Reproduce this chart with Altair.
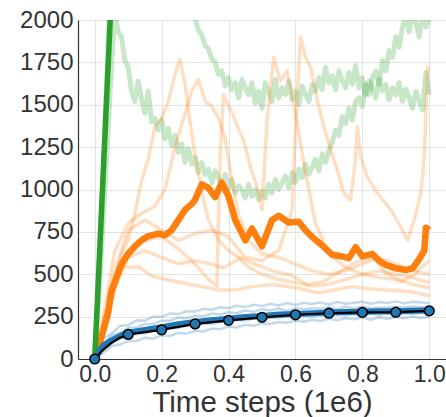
import altair as alt
import pandas as pd

# ---------------- data ----------------
grid01 = [round(i * 0.01, 2) for i in range(101)]
grid025 = [round(i * 0.025, 3) for i in range(41)]

green_mean_x = [0.0, 0.05, 0.1, 0.2, 0.4, 0.7, 1.0]
green_mean_y = [0, 2160, 4300, 6200, 7600, 8400, 9000]

green_run1_y = [
    0, 300, 620, 980, 1350, 1720, 2060, 1930, 1900, 1760,
    1720, 1580, 1520, 1640, 1530, 1450, 1580, 1400, 1420, 1350,
    1410, 1300, 1360, 1260, 1320, 1220, 1270, 1160, 1240, 1150,
    1190, 1100, 1160, 1090, 1120, 1040, 1110, 1070, 1020, 1090,
    1000, 1060, 980, 1020, 1000, 950, 1030, 960, 1000, 940,
    990, 950, 1030, 980, 1060, 1000, 1040, 1080, 1010, 1100,
    1040, 1120, 1070, 1150, 1090, 1130, 1180, 1110, 1210, 1160,
    1230, 1280, 1350, 1320, 1430, 1390, 1480, 1410, 1520, 1540,
    1490, 1620, 1560, 1660, 1700, 1620, 1760, 1700, 1820, 1780,
    1900, 1840, 1960, 2020, 1930, 2050, 1980, 1900, 2040, 1960,
    2010,
]

green_run2_x = [0.0, 0.01, 0.02, 0.03, 0.04, 0.05, 0.1, 0.2, 0.28] + [round(0.30 + i * 0.01, 2) for i in range(71)]
green_run2_y = [
    0, 380, 850, 1350, 1850, 2350, 3100, 2600, 2150,
    2010, 1940, 1910, 1850, 1830, 1770, 1750, 1680, 1700, 1610,
    1660, 1590, 1630, 1540, 1650, 1600, 1560, 1630, 1510, 1580,
    1480, 1630, 1570, 1520, 1650, 1540, 1600, 1560, 1640, 1530,
    1580, 1500, 1610, 1560, 1520, 1620, 1580, 1660, 1590, 1720,
    1630, 1670, 1590, 1700, 1640, 1600, 1690, 1620, 1730, 1600,
    1660, 1560, 1640, 1600, 1540, 1650, 1580, 1620, 1530, 1600,
    1560, 1630, 1520, 1590, 1540, 1480, 1580, 1520, 1470, 1690,
    1560,
]

orange_mean_x = [0, 0.02, 0.04, 0.05, 0.08, 0.1, 0.12, 0.14, 0.16, 0.19,
                 0.21, 0.23, 0.24, 0.27, 0.29, 0.30, 0.32, 0.34, 0.36, 0.38,
                 0.40, 0.42, 0.45, 0.47, 0.50, 0.53, 0.55, 0.58, 0.61, 0.63,
                 0.65, 0.68, 0.71, 0.74, 0.76, 0.78, 0.80, 0.83, 0.85, 0.87,
                 0.90, 0.93, 0.95, 0.97, 0.985, 0.99, 1.0]
orange_mean_y = [0, 130, 270, 400, 560, 620, 665, 700, 725, 740,
                 730, 760, 790, 880, 915, 940, 1030, 1010, 955, 1040,
                 960, 820, 700, 770, 665, 820, 845, 805, 810, 760,
                 720, 670, 615, 605, 595, 660, 605, 620, 580, 555,
                 535, 525, 535, 590, 640, 775, 760]

orange_run1_x = [0, 0.02, 0.05, 0.08, 0.1, 0.12, 0.14, 0.16, 0.18, 0.2, 0.22, 0.24, 0.255, 0.27, 0.285, 0.3,
                 0.32, 0.34, 0.37, 0.4, 0.43, 0.46, 0.5, 0.55, 0.6, 0.65, 0.7, 0.75, 0.8, 0.85, 0.9, 0.95, 1.0]
orange_run1_y = [0, 120, 400, 620, 700, 860, 1050, 1180, 1370, 1420, 1520, 1680, 1770, 1620, 1400, 1200,
                 980, 820, 700, 640, 600, 540, 500, 470, 450, 430, 440, 470, 500, 520, 500, 480, 450]

orange_run2_x = [0, 0.03, 0.06, 0.1, 0.14, 0.18, 0.21, 0.24, 0.27, 0.29, 0.31, 0.33, 0.35, 0.37, 0.39,
                 0.41, 0.43, 0.46, 0.5, 0.55, 0.6, 0.65, 0.7, 0.75, 0.8, 0.85, 0.9, 0.95, 1.0]
orange_run2_y = [0, 300, 640, 800, 860, 900, 1000, 1250, 1450, 1580, 1650, 1520, 1490, 1420, 1300,
                 1050, 850, 700, 620, 600, 560, 520, 500, 520, 560, 600, 560, 520, 500]

orange_run3_x = [0, 0.03, 0.06, 0.1, 0.15, 0.2, 0.25, 0.3, 0.34, 0.365, 0.375, 0.385, 0.415, 0.445, 0.465,
                 0.485, 0.5, 0.515, 0.535, 0.555, 0.575, 0.6, 0.63, 0.66, 0.7, 0.75, 0.8, 0.85, 0.9, 0.95, 1.0]
orange_run3_y = [0, 180, 420, 640, 700, 720, 650, 560, 470, 430, 1200, 1560, 1430, 1290, 1135,
                 1016, 880, 1400, 1780, 1640, 1700, 1450, 1100, 800, 620, 540, 500, 480, 470, 440, 420]

orange_run4_x = [0, 0.03, 0.06, 0.1, 0.15, 0.2, 0.25, 0.3, 0.35, 0.4, 0.45, 0.5, 0.55, 0.59, 0.6, 0.615,
                 0.63, 0.645, 0.665, 0.685, 0.705, 0.725, 0.745, 0.765, 0.778, 0.785, 0.795, 0.815, 0.845,
                 0.885, 0.915, 0.935, 0.955, 0.975, 0.985, 0.995, 1.0]
orange_run4_y = [0, 250, 520, 760, 820, 760, 700, 740, 760, 720, 600, 580, 640, 880, 1350, 1900,
                 1780, 1725, 1528, 1370, 1233, 1115, 978, 938, 1150, 1370, 1194, 1076, 978,
                 880, 780, 700, 820, 978, 1180, 1720, 1700]

orange_run5_x = [0, 0.03, 0.06, 0.08, 0.1, 0.13, 0.17, 0.22, 0.27, 0.32, 0.37, 0.42, 0.47, 0.53, 0.6,
                 0.67, 0.72, 0.77, 0.82, 0.87, 0.93, 0.97, 1.0]
orange_run5_y = [0, 250, 480, 560, 540, 545, 490, 466, 447, 427, 407, 407, 427, 440, 420,
                 390, 410, 427, 415, 407, 400, 388, 370]

orange_run6_x = [0, 0.03, 0.06, 0.1, 0.15, 0.2, 0.25, 0.3, 0.35, 0.385, 0.435, 0.485, 0.535, 0.585,
                 0.635, 0.685, 0.735, 0.785, 0.835, 0.865, 0.915, 0.955, 0.985, 1.0]
orange_run6_y = [0, 200, 420, 600, 640, 600, 560, 580, 560, 537, 596, 556, 517, 497,
                 438, 458, 517, 576, 596, 517, 458, 497, 556, 580]

blue_mean_x = [0, 0.025, 0.05, 0.075, 0.1, 0.15, 0.2, 0.25, 0.3, 0.35, 0.4, 0.45, 0.5, 0.55, 0.6,
               0.65, 0.7, 0.75, 0.8, 0.85, 0.9, 0.95, 1.0]
blue_mean_y = [0, 80, 110, 135, 155, 172, 188, 205, 218, 228, 238, 248, 254, 262, 266,
               270, 274, 277, 279, 281, 282, 284, 287]

blue_run1_y = [0, 120, 150, 195, 200, 228, 226, 250, 250, 268, 265, 282, 280, 296, 290, 305, 300, 314, 306, 320,
               312, 326, 316, 330, 318, 332, 324, 334, 322, 336, 326, 332, 338, 326, 336, 330, 340, 328, 338, 334, 330]
blue_run2_y = [0, 85, 138, 152, 184, 186, 206, 206, 226, 226, 244, 240, 256, 252, 268, 262, 276, 270, 286, 278,
               294, 286, 298, 284, 300, 294, 300, 296, 306, 294, 308, 298, 310, 300, 304, 302, 308, 304, 310, 306, 312]
blue_run3_y = [0, 65, 90, 124, 128, 150, 150, 168, 168, 186, 182, 198, 194, 210, 206, 220, 218, 232, 226, 240,
               234, 246, 240, 254, 246, 258, 250, 258, 252, 262, 256, 266, 254, 268, 260, 268, 262, 270, 264, 272, 268]
blue_run4_y = [0, 35, 75, 85, 106, 106, 126, 120, 140, 136, 154, 150, 166, 162, 180, 176, 192, 186, 202, 196,
               210, 206, 218, 214, 226, 220, 232, 224, 238, 228, 240, 234, 244, 232, 246, 238, 248, 240, 250, 242, 252]

black_x = [0, 0.02, 0.05, 0.075, 0.1, 0.2, 0.3, 0.4, 0.5, 0.6, 0.7, 0.8, 0.9, 1.0]
black_y = [0, 45, 95, 125, 145, 172, 207, 228, 246, 261, 270, 275, 276, 284]
marker_x = [0.0, 0.1, 0.2, 0.3, 0.4, 0.5, 0.6, 0.7, 0.8, 0.9, 1.0]
marker_y = [0, 145, 172, 207, 228, 246, 261, 270, 275, 276, 284]

x_ticks = [0.0, 0.2, 0.4, 0.6, 0.8, 1.0]
y_ticks = [0, 250, 500, 750, 1000, 1250, 1500, 1750, 2000]


def frame(runs):
    rows = []
    for name, xs, ys in runs:
        for a, b in zip(xs, ys):
            rows.append({"x": a, "y": b, "run": name})
    return pd.DataFrame(rows)


FONT = "Liberation Sans"
TXT = "#333333"

x_enc = alt.X(
    "x:Q",
    scale=alt.Scale(domain=[-0.05, 1.05], nice=False, zero=False),
    axis=alt.Axis(values=x_ticks, format=".1f", title="Time steps (1e6)",
                  labelFontSize=23, labelFont=FONT, labelColor=TXT, labelPadding=4,
                  ticks=False, domainColor="#333333", domainWidth=1.2,
                  gridColor="#e3e3e3", gridWidth=1,
                  titleFont=FONT, titleFontSize=29.5, titleFontWeight="normal",
                  titleColor=TXT, titlePadding=2, labelFlush=False),
)
y_enc = alt.Y(
    "y:Q",
    scale=alt.Scale(domain=[0, 2000], nice=False),
    axis=alt.Axis(values=y_ticks, format="d", title=None,
                  labelFontSize=24, labelFont=FONT, labelColor=TXT, labelPadding=5,
                  ticks=False, domainColor="#333333", domainWidth=1.2,
                  gridColor="#e3e3e3", gridWidth=1),
)


def lines(df, color, width, opacity):
    return alt.Chart(df).mark_line(color=color, strokeWidth=width, opacity=opacity,
                                   clip=True, strokeJoin="round").encode(
        x=x_enc, y=y_enc, detail="run:N")


green_faint = frame([("g1", grid01, green_run1_y), ("g2", green_run2_x, green_run2_y)])
orange_faint = frame([
    ("o1", orange_run1_x, orange_run1_y), ("o2", orange_run2_x, orange_run2_y),
    ("o3", orange_run3_x, orange_run3_y), ("o4", orange_run4_x, orange_run4_y),
    ("o5", orange_run5_x, orange_run5_y), ("o6", orange_run6_x, orange_run6_y),
])
blue_faint = frame([
    ("b1", grid025, blue_run1_y), ("b2", grid025, blue_run2_y),
    ("b3", grid025, blue_run3_y), ("b4", grid025, blue_run4_y),
])

layers = [
    lines(green_faint, "#2ca02c", 5, 0.26),
    lines(orange_faint, "#ff7f0e", 3.5, 0.25),
    lines(blue_faint, "#1f77b4", 2.5, 0.28),
    lines(frame([("om", orange_mean_x, orange_mean_y)]), "#ff7f0e", 6.5, 1),
    lines(frame([("gm", green_mean_x, green_mean_y)]), "#2ca02c", 5.5, 1),
    lines(frame([("bm", blue_mean_x, blue_mean_y)]), "#1f77b4", 6, 1),
    lines(frame([("bk", black_x, black_y)]), "#000000", 2.2, 1),
    alt.Chart(frame([("mk", marker_x, marker_y)])).mark_point(
        shape="circle", filled=True, fill="#1f77b4", stroke="#000000",
        strokeWidth=1.5, size=95, opacity=1, clip=False).encode(x=x_enc, y=y_enc),
]

chart = alt.layer(*layers).properties(
    width=368, height=339,
    autosize=alt.AutoSizeParams(type="none"),
    padding={"left": 78, "top": 20, "right": 0, "bottom": 58},
    background="white",
).configure_view(strokeWidth=0)

chart.save("out.html", embed_options={"renderer": "svg", "actions": False})
